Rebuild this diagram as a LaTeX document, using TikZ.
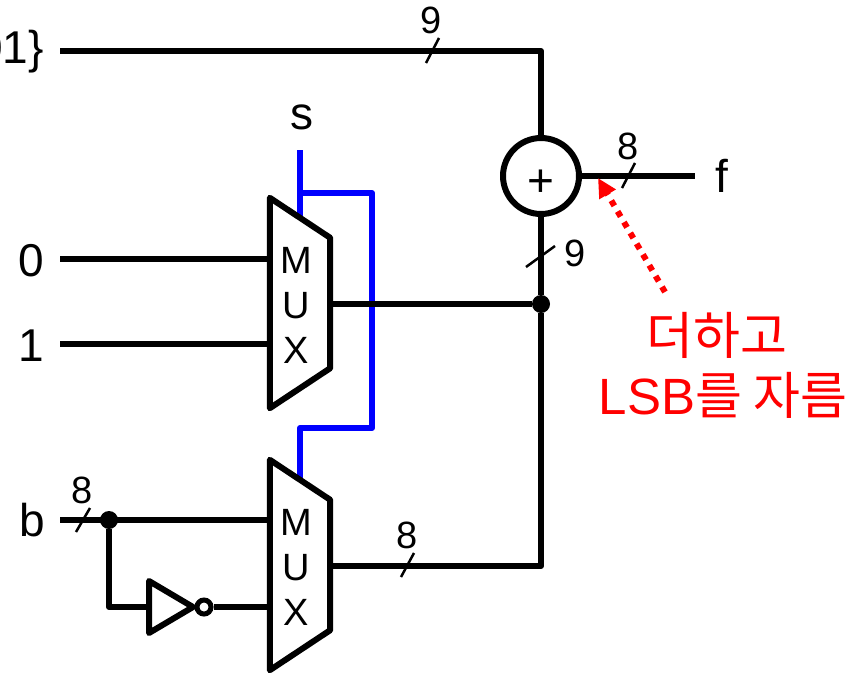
\documentclass[tikz,border=0pt]{standalone}
\usepackage{fontspec}
\setmainfont{Liberation Sans}
\newfontfamily\krfont{Noto Sans CJK KR}
\usetikzlibrary{arrows.meta}
\tikzset{
  wire/.style={line width=6pt, line join=round},
  ctrl/.style={line width=6pt, line join=round, draw=blue},
  tick/.style={line width=2.5pt},
  lbl/.style={font=\fontsize{46}{46}\selectfont, inner sep=0pt},
  small/.style={font=\fontsize{38}{38}\selectfont, inner sep=0pt},
  joint/.style={circle, fill=black, inner sep=0pt, minimum size=18pt},
  muxbox/.style={minimum width=60pt, minimum height=210pt, inner sep=0pt},
  muxtext/.style={inner sep=0pt, align=center, font=\fontsize{38}{45}\selectfont},
  note/.style={text=red, inner sep=0pt, align=center, font=\fontsize{51}{60}\selectfont}
}
\begin{document}
\begin{tikzpicture}[x=1pt, y=-1pt]
    \useasboundingbox (0, 0) rectangle (851, 672);
    \clip (0, 0) rectangle (851, 672);
    \node[muxbox] (mux1) at (300, 303) {};
    \node[muxbox] (mux2) at (300, 565) {};
    \node[muxtext] (m1) at (296, 305) {M\\U\\X};
    \node[muxtext] (m2) at (296, 567) {M\\U\\X};
    \node[circle, draw, line width=6pt, minimum size=76pt, inner sep=0pt, font=\fontsize{46}{46}\selectfont] (add) at (541, 176) {\raisebox{-20pt}[0pt][0pt]{+}};
    \node[joint] (sum) at (541, 304) {};
    \node[joint] (bsplit) at (109, 520) {};
    \node[circle, draw, line width=5pt, minimum size=14pt, inner sep=0pt] (bubble) at (204, 607) {};
    \node[lbl, anchor=east] (top) at (44, 52) {01\}};
    \node[lbl, anchor=east] (zero) at (44, 261) {0};
    \node[lbl, anchor=east] (one) at (44, 346) {1};
    \node[lbl, anchor=east] (b) at (45, 520) {b};
    \node[lbl] (s) at (302, 117) {s};
    \node[lbl] (f) at (722, 176) {f};
    \node[small] (w1) at (431, 20) {9};
    \node[small] (w2) at (628, 146) {8};
    \node[small] (w3) at (575, 253) {9};
    \node[small] (w4) at (82, 490) {8};
    \node[small] (w5) at (407, 535) {8};
    \node[note] (txt) at (723, 365) {\hspace*{-12pt}{\krfont 더하고}\\LSB{\krfont 를 자름}};
    \coordinate (topin) at (60, 51);
    \coordinate (topbend) at (541, 51);
    \coordinate (in0) at (60, 259);
    \coordinate (in1) at (60, 344);
    \coordinate (inb) at (60, 520);
    \coordinate (out) at (695, 176);
    \coordinate (selin) at (300, 150);
    \coordinate (sel1) at (300, 218);
    \coordinate (selbr) at (300, 193);
    \coordinate (sel2) at (300, 480);
    \coordinate (invin) at (149, 607);
    \coordinate (fold) at (109, 607);
    % select lines stay under the black wires
    \draw[ctrl] (selin) -- (sel1);
    \draw[ctrl] (selbr) -- (372, 193) -- (372, 428) -- (300, 428) -- (sel2);
    % mux outlines
    \draw[wire] (mux1.north west) -- ([yshift=-40pt]mux1.north east) -- ([yshift=40pt]mux1.south east) -- (mux1.south west) -- cycle;
    \draw[wire] (mux2.north west) -- ([yshift=-40pt]mux2.north east) -- ([yshift=40pt]mux2.south east) -- (mux2.south west) -- cycle;
    \draw[wire] (149, 581) -- (193, 607) -- (149, 633) -- cycle;
    % wires
    \draw[wire] (topin) -- (topbend) -- (add);
    \draw[wire] (add) -- (out);
    \draw[wire] (in0) -- (in0 -| mux1.west);
    \draw[wire] (in1) -- (in1 -| mux1.west);
    \draw[wire] (inb) -- (inb -| mux2.west);
    \draw[wire] (mux1.east |- sum) -- (sum);
    \draw[wire] (add) -- (sum) -- (541, 566) -- (mux2.east |- 541, 566);
    \draw[wire] (bsplit) -- (fold) -- (invin);
    \draw[wire] (bubble) -- (bubble -| mux2.west);
    % bus width ticks
    \draw[tick] (426, 63) -- (439, 38);
    \draw[tick] (622, 188) -- (635, 163);
    \draw[tick] (526, 267) -- (555, 246);
    \draw[tick] (76, 532) -- (90, 508);
    \draw[tick] (401, 577) -- (414, 553);
    % note arrow
    \draw[red, line width=6pt, dash pattern=on 6pt off 6.5pt, -{Triangle[length=19pt, width=18pt]}] (665, 292) -- (598, 178);
\end{tikzpicture}
\end{document}
